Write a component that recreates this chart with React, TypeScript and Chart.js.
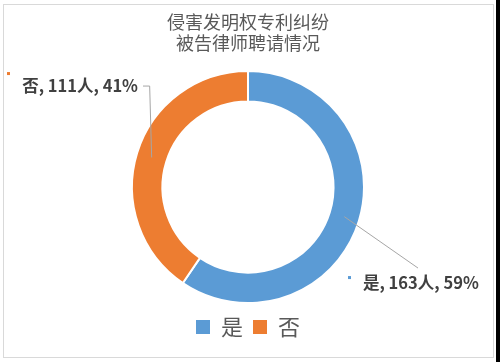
import React, { useEffect, useRef } from "react";
import { Chart, registerables } from "chart.js";

Chart.register(...registerables);

const titleLines = ["侵害发明权专利纠纷", "被告律师聘请情况"];
const categories = ["是", "否"];
const counts = [163, 111];
const unit = "人";
const colors = ["#5B9BD5", "#ED7D31"];

const FONT = "'Noto Sans CJK SC', 'Noto Sans', sans-serif";

const framePlugin = {
  id: "frame",
  beforeDraw(chart: any) {
    const ctx = chart.ctx;
    ctx.save();
    ctx.fillStyle = "#ffffff";
    ctx.fillRect(0, 0, chart.width, chart.height);
    ctx.strokeStyle = "#d9d9d9";
    ctx.lineWidth = 1;
    ctx.strokeRect(3.5, 4.5, 490, 353);
    ctx.fillStyle = "#000000";
    ctx.fillRect(chart.width - 4, 0, 4, chart.height);
    ctx.restore();
  },
};

const labelPlugin = {
  id: "sliceLabels",
  afterDatasetsDraw(chart: any) {
    const ctx = chart.ctx;
    const meta = chart.getDatasetMeta(0);
    const total = counts.reduce((a, b) => a + b, 0);
    ctx.save();
    ctx.font = `bold 16.5px ${FONT}`;
    ctx.textBaseline = "middle";
    meta.data.forEach((arc: any, i: number) => {
      const p = arc.getProps(["x", "y", "startAngle", "endAngle", "innerRadius", "outerRadius"], true);
      const mid = (p.startAngle + p.endAngle) / 2;
      const r = (p.innerRadius + p.outerRadius) / 2;
      const px = p.x + Math.cos(mid) * r;
      const py = p.y + Math.sin(mid) * r;
      const cx = p.x;
      const cy = p.y;
      const pct = Math.round((counts[i] / total) * 100);
      const text = `${categories[i]}, ${counts[i]}${unit}, ${pct}%`;
      ctx.strokeStyle = "#a6a6a6";
      ctx.lineWidth = 1;
      ctx.fillStyle = "#404040";
      if (Math.cos(mid) >= 0) {
        const tx = cx + 115;
        const ty = cy + 96;
        ctx.textAlign = "left";
        ctx.fillText(text, tx, ty);
        ctx.beginPath();
        ctx.moveTo(px, py);
        ctx.lineTo(cx + 170, cy + 81);
        ctx.stroke();
        ctx.fillStyle = colors[i];
        ctx.fillRect(cx + 100, cy + 89, 3, 3);
      } else {
        const tx = cx - 110;
        const ty = cy - 101;
        ctx.textAlign = "right";
        ctx.fillText(text, tx, ty);
        ctx.beginPath();
        ctx.moveTo(tx + 5, ty);
        ctx.lineTo(px - 2, ty);
        ctx.lineTo(px, py);
        ctx.stroke();
        ctx.fillStyle = colors[i];
        ctx.fillRect(cx - 241, cy - 115, 3, 3);
      }
    });
    ctx.restore();
  },
};

export default function App() {
  const ref = useRef<HTMLCanvasElement | null>(null);
  useEffect(() => {
    if (!ref.current) return;
    const chart = new Chart(ref.current, {
      type: "doughnut",
      data: {
        labels: categories,
        datasets: [
          {
            data: counts,
            backgroundColor: colors,
            borderColor: "#ffffff",
            borderWidth: 2,
          },
        ],
      },
      options: {
        animation: false,
        responsive: true,
        maintainAspectRatio: false,
        radius: 116,
        cutout: 87,
        layout: { padding: { top: 0, bottom: 14, left: 0, right: 4 } },
        plugins: {
          title: {
            display: true,
            text: titleLines,
            color: "#595959",
            font: { family: FONT, size: 18, weight: "normal", lineHeight: 1.17 },
            padding: { top: 12, bottom: 14 },
          },
          legend: {
            position: "bottom",
            labels: {
              boxWidth: 14,
              boxHeight: 14,
              padding: 10,
              color: "#595959",
              font: { family: FONT, size: 22 },
              generateLabels: () =>
                categories.map((c, i) => ({
                  text: c,
                  fillStyle: colors[i],
                  strokeStyle: colors[i],
                  lineWidth: 0,
                  hidden: false,
                  index: i,
                  fontColor: "#595959",
                })),
            },
          },
          tooltip: { enabled: false },
        },
      },
      plugins: [framePlugin, labelPlugin],
    });
    return () => chart.destroy();
  }, []);
  return (
    <div style={{ position: "absolute", left: 0, top: 0, width: 500, height: 362 }}>
      <canvas ref={ref} />
    </div>
  );
}
